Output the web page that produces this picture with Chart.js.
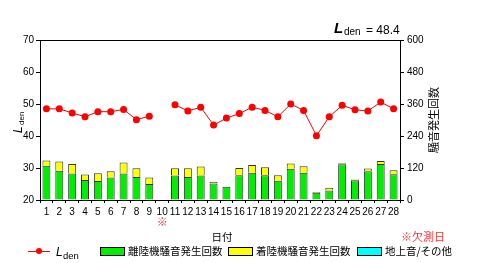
<!DOCTYPE html>
<html><head><meta charset="utf-8">
<script src="https://cdn.jsdelivr.net/npm/chart.js@4/dist/chart.umd.min.js"></script>
<style>html,body{margin:0;padding:0;background:#fff;}#wrap{width:480px;height:263px;}</style>
</head><body><div id="wrap"><canvas id="c" width="480" height="263"></canvas></div>
<script>
const days = ['1','2','3','4','5','6','7','8','9','10','11','12','13','14','15','16','17','18','19','20','21','22','23','24','25','26','27','28'];
const lden = [48.5,48.5,47.2,46.0,47.6,47.6,48.3,45.1,46.2,null,49.8,47.8,49.0,43.4,45.6,47.0,49.0,48.0,46.0,50.0,48.0,40.1,46.0,49.6,48.2,47.8,50.6,48.5];
const takeoff = [128,110,99,75,71,84,99,86,60,null,92,86,92,62,50,93,102,93,72,117,102,27,36,134,74,108,135,97];
const landing = [20,34,36,21,29,24,42,33,24,null,27,33,34,6,0,27,29,30,21,20,25,3,10,4,3,10,11,15];
const ground = [0,0,0,0,0,0,0,0,0,null,0,0,0,0,0,0,0,0,0,0,0,0,0,0,0,0,0,0];
const leftTicks = [20,30,40,50,60,70];
const rightTicks = [0,120,240,360,480,600];
const ldenAvg = '48.4';
const missingDays = ['10'];

const NUM = '"Liberation Sans", Arial, sans-serif';
const JP = '"Noto Sans CJK JP", sans-serif';

const extras = {
  id: 'extras',
  afterDraw(chart) {
    const ctx = chart.ctx;
    const x = chart.scales.x;
    ctx.save();
    const a = chart.chartArea;
    ctx.strokeStyle = '#000'; ctx.lineWidth = 1;
    ctx.beginPath(); ctx.moveTo(a.left, a.top + 0.5); ctx.lineTo(a.right, a.top + 0.5); ctx.stroke();
    // title
    ctx.fillStyle = '#000'; ctx.textBaseline = 'alphabetic'; ctx.textAlign = 'left';
    ctx.font = 'italic bold 15px ' + NUM;
    ctx.fillText('L', 334, 33);
    ctx.font = '10px ' + NUM;
    ctx.fillText('den', 344, 35);
    ctx.font = '12px ' + NUM;
    ctx.fillText('= ' + ldenAvg, 366, 34);
    // left axis title
    ctx.save(); ctx.translate(22, 122); ctx.rotate(-Math.PI/2);
    ctx.font = 'italic 12px ' + NUM; ctx.textAlign = 'left';
    ctx.fillText('L', -11, 0);
    ctx.font = '8px ' + NUM; ctx.fillText('den', -3, 2);
    ctx.restore();
    // right axis title
    ctx.save(); ctx.translate(434, 120); ctx.rotate(-Math.PI/2);
    ctx.font = '11px ' + JP; ctx.textAlign = 'center'; ctx.textBaseline = 'middle';
    ctx.fillText('騒音発生回数', 0, 0);
    ctx.restore();
    // missing marker
    ctx.fillStyle = '#ff3333'; ctx.font = '11px ' + JP; ctx.textAlign = 'center'; ctx.textBaseline = 'middle';
    missingDays.forEach(d => { const i = days.indexOf(d); ctx.fillText('※', x.getPixelForValue(i), 222); });
    // x title
    ctx.fillStyle = '#000'; ctx.font = '10.5px ' + JP;
    ctx.fillText('日付', 222, 237);
    ctx.fillStyle = '#ff3333'; ctx.textAlign = 'left'; ctx.font = '11px ' + JP;
    ctx.fillText('※欠測日', 401, 237);
    // legend
    const ly = 251;
    ctx.strokeStyle = '#ff0000'; ctx.lineWidth = 1;
    ctx.beginPath(); ctx.moveTo(28, ly + 0.5); ctx.lineTo(50, ly + 0.5); ctx.stroke();
    ctx.fillStyle = '#ff0000'; ctx.beginPath(); ctx.arc(39, ly, 3, 0, Math.PI*2); ctx.fill();
    ctx.fillStyle = '#000'; ctx.font = 'italic 12px ' + NUM; ctx.textBaseline = 'alphabetic';
    ctx.fillText('L', 56, 256);
    ctx.font = '9.5px ' + NUM; ctx.fillText('den', 63, 259);
    const items = [[100, '#00ee00', '離陸機騒音発生回数'], [228, '#ffff00', '着陸機騒音発生回数'], [357, '#00ffff', '地上音/その他']];
    ctx.font = '10.5px ' + JP; ctx.textBaseline = 'middle';
    items.forEach(([lx, col, t]) => {
      ctx.fillStyle = col; ctx.fillRect(lx, ly - 4, 24, 8);
      ctx.strokeStyle = '#000'; ctx.strokeRect(lx + 0.5, ly - 3.5, 24, 8);
      ctx.fillStyle = '#000'; ctx.fillText(t, lx + 28, ly);
    });
    ctx.restore();
  }
};

new Chart(document.getElementById('c'), {
  type: 'bar',
  data: {
    labels: days,
    datasets: [
      { type: 'line', label: 'Lden', data: lden, yAxisID: 'y', borderColor: '#ff0000', backgroundColor: '#ff0000',
        borderWidth: 1, pointRadius: 3.5, pointBackgroundColor: '#ff0000', pointBorderWidth: 0, spanGaps: false, order: 0 },
      { label: '離陸機騒音発生回数', data: takeoff, yAxisID: 'y2', backgroundColor: '#00ee00', borderColor: '#333', borderWidth: 1, stack: 's', order: 1 },
      { label: '着陸機騒音発生回数', data: landing, yAxisID: 'y2', backgroundColor: '#ffff00', borderColor: '#333', borderWidth: 1, stack: 's', order: 1 },
      { label: '地上音/その他', data: ground, yAxisID: 'y2', backgroundColor: '#00ffff', borderColor: '#333', borderWidth: 0, stack: 's', order: 1 }
    ]
  },
  options: {
    responsive: false, animation: false,
    layout: { padding: { top: 40, left: 0, right: 0, bottom: 0 } },
    plugins: { legend: { display: false }, tooltip: { enabled: false } },
    datasets: { bar: { barPercentage: 0.62, categoryPercentage: 1 } },
    scales: {
      x: { stacked: true, offset: true,
        grid: { display: true, drawOnChartArea: false, tickLength: 3, color: '#000', offset: true },
        border: { color: '#000' },
        ticks: { color: '#000', font: { family: NUM, size: 10 }, maxRotation: 0, autoSkip: false, padding: 3 },
        afterFit(s) { s.height = 63; } },
      y: { position: 'left', min: 20, max: 70,
        afterBuildTicks(s) { s.ticks = leftTicks.map(v => ({ value: v })); },
        grid: { drawOnChartArea: false, tickLength: 4, color: '#000' }, border: { color: '#000' },
        ticks: { color: '#000', font: { family: NUM, size: 10 }, padding: 2 },
        afterFit(s) { s.width = 40; } },
      y2: { position: 'right', min: 0, max: 600, stacked: true,
        afterBuildTicks(s) { s.ticks = rightTicks.map(v => ({ value: v })); },
        grid: { drawOnChartArea: false, tickLength: 4, color: '#000' }, border: { color: '#000' },
        ticks: { color: '#000', font: { family: NUM, size: 10 }, padding: 3 },
        afterFit(s) { s.width = 80; } }
    }
  },
  plugins: [extras]
});
</script></body></html>
